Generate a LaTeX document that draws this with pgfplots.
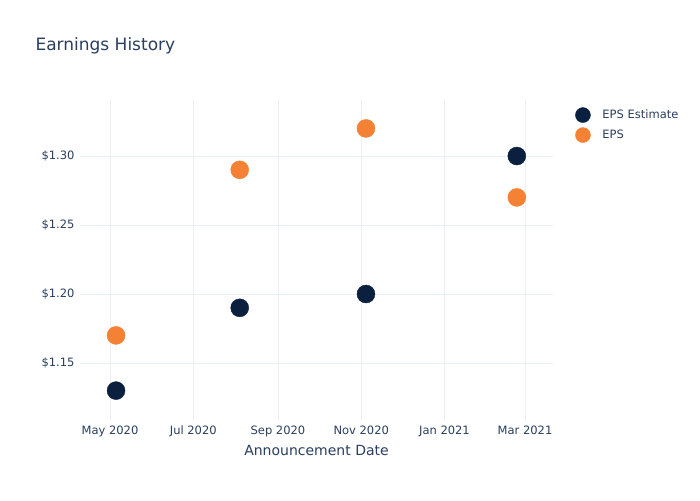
\documentclass[border=0pt]{standalone}
\usepackage{pgfplots}
\pgfplotsset{compat=1.18}
\usepackage{fontspec}
\setmainfont{DejaVu Sans}
\definecolor{navy}{HTML}{0B1F3F}
\definecolor{orng}{HTML}{F58134}
\definecolor{txt}{HTML}{2A3F5F}
\definecolor{grd}{HTML}{EBF0F8}
\begin{document}
\begin{tikzpicture}[x=1pt,y=1pt]
\useasboundingbox[fill=white] (0pt,0pt) rectangle (700pt,500pt);
\begin{axis}[
  at={(80pt,80pt)}, anchor=south west,
  scale only axis, width=473pt, height=320pt,
  xmin=-22, xmax=324.5, ymin=1.1087, ymax=1.3406,
  axis line style={draw=none},
  tick style={draw=none},
  grid=major, major grid style={grd, line width=0.8pt},
  xtick={0,61,123,184,245,304},
  xticklabels={May 2020,Jul 2020,Sep 2020,Nov 2020,Jan 2021,Mar 2021},
  ytick={1.15,1.20,1.25,1.30},
  yticklabels={\$1.15,\$1.20,\$1.25,\$1.30},
  ticklabel style={font=\fontsize{11.5}{13}\selectfont, text=txt},
  xticklabel style={yshift=-2pt},
  yticklabel style={xshift=-2pt},
  xlabel={Announcement Date},
  xlabel style={font=\fontsize{14}{16}\selectfont, text=txt, yshift=-2pt},
  clip=false,
  legend style={at={(1.047,0.977)}, anchor=north west, draw=none, fill=none,
    font=\fontsize{11.5}{13}\selectfont, text=txt, row sep=5pt,
    inner xsep=0pt, inner ysep=0pt,
    nodes={inner xsep=3pt, inner ysep=0pt},
    /tikz/column 1/.style={column sep=9pt}},
  legend cell align=left,
  legend image code/.code={\draw[#1, mark size=7.5pt] plot coordinates {(0.3cm,0cm)};},
]
\addplot[only marks, mark=*, mark size=9pt, color=navy, mark options={draw=navy, fill=navy}]
  coordinates {(4.4,1.13) (95,1.19) (187.5,1.20) (298,1.30)};
\addlegendentry{EPS Estimate}
\addplot[only marks, mark=*, mark size=9pt, color=orng, mark options={draw=orng, fill=orng}]
  coordinates {(4.4,1.17) (95,1.29) (187.5,1.32) (298,1.27)};
\addlegendentry{EPS}
\end{axis}
\node[anchor=west, text=txt, font=\fontsize{17}{20}\selectfont] at (32pt,454pt) {Earnings History};
\end{tikzpicture}
\end{document}
